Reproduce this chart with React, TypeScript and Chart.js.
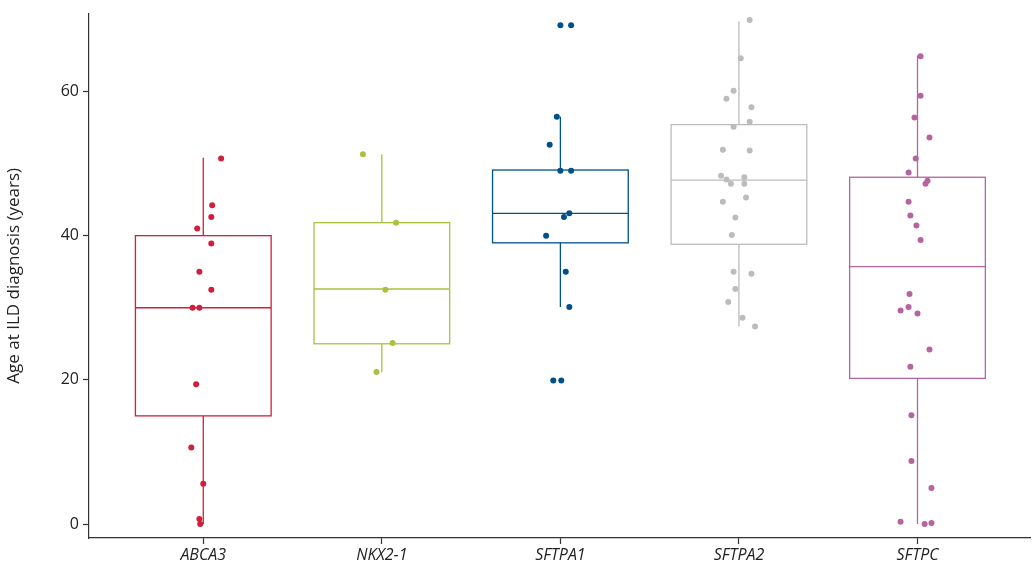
import React, { useEffect, useRef } from "react";
import { Chart, registerables } from "chart.js";
Chart.register(...registerables);

const categories = ["ABCA3", "NKX2-1", "SFTPA1", "SFTPA2", "SFTPC"];
const colors = ["#d01f3c", "#a9c23f", "#00508c", "#bcbcbc", "#b5649d"];
const q1 = [15.0, 25.0, 39.0, 38.8, 20.2];
const medians = [30.0, 32.6, 43.1, 47.7, 35.7];
const q3 = [40.0, 41.8, 49.1, 55.4, 48.1];
const whiskerLow = [0.0, 21.1, 30.1, 27.4, 0.0];
const whiskerHigh = [50.8, 51.3, 56.5, 69.7, 65.0];
const yTicks = [0, 20, 40, 60];

const abca3Y = [50.7, 44.2, 42.6, 41.0, 38.9, 35.0, 32.5, 30.0, 30.0, 19.4, 10.6, 5.6, 0.7, 0.0];
const abca3Jit = [0.1, 0.05, 0.045, -0.034, 0.045, -0.022, 0.045, -0.06, -0.022, -0.04, -0.067, 0, -0.022, -0.017];
const nkxY = [51.3, 41.8, 32.5, 25.1, 21.1];
const nkxJit = [-0.106, 0.08, 0.02, 0.06, -0.03];
const sftpa1Y = [69.2, 69.2, 56.5, 52.6, 49.0, 49.0, 43.1, 42.6, 40.0, 35.0, 30.1, 19.9, 19.9];
const sftpa1Jit = [0, 0.06, -0.02, -0.06, 0, 0.06, 0.05, 0.02, -0.08, 0.03, 0.05, -0.04, 0.005];
const sftpa2Y = [69.9, 64.6, 60.1, 59.0, 57.8, 55.1, 55.8, 51.9, 51.8, 48.3, 47.8, 48.1, 47.2, 47.2, 45.3, 44.7, 42.5, 40.1, 35.0, 34.7, 32.6, 30.8, 28.6, 27.4];
const sftpa2Jit = [0.06, 0.01, -0.03, -0.07, 0.07, -0.03, 0.06, -0.09, 0.06, -0.1, -0.07, 0.03, -0.045, 0.03, 0.04, -0.09, -0.02, -0.04, -0.03, 0.07, -0.02, -0.06, 0.02, 0.09];
const sftpcY = [64.9, 59.4, 56.4, 53.6, 50.7, 48.75, 47.6, 47.2, 44.7, 42.8, 41.4, 39.4, 31.9, 30.1, 29.6, 29.2, 24.2, 21.8, 15.1, 8.75, 5.0, 0.3, 0.0, 0.15];
const sftpcJit = [0.017, 0.017, -0.017, 0.067, -0.01, -0.05, 0.056, 0.045, -0.05, -0.04, -0.006, 0.017, -0.045, -0.05, -0.095, 0, 0.067, -0.04, -0.034, -0.034, 0.078, -0.095, 0.04, 0.078];

const pointsY = [abca3Y, nkxY, sftpa1Y, sftpa2Y, sftpcY];
const pointsJit = [abca3Jit, nkxJit, sftpa1Jit, sftpa2Jit, sftpcJit];
const BOX_HALF = 0.38;

const boxPlugin = {
  id: "boxes",
  beforeDatasetsDraw(chart: any) {
    const { ctx, scales } = chart;
    const x = scales.x, y = scales.y;
    ctx.save();
    ctx.lineWidth = 1.3;
    categories.forEach((_, i) => {
      ctx.strokeStyle = colors[i];
      const cx = x.getPixelForValue(i);
      const l = x.getPixelForValue(i - BOX_HALF), r = x.getPixelForValue(i + BOX_HALF);
      const yq1 = y.getPixelForValue(q1[i]), yq3 = y.getPixelForValue(q3[i]);
      const ym = y.getPixelForValue(medians[i]);
      ctx.beginPath();
      ctx.moveTo(cx, y.getPixelForValue(whiskerHigh[i])); ctx.lineTo(cx, yq3);
      ctx.moveTo(cx, yq1); ctx.lineTo(cx, y.getPixelForValue(whiskerLow[i]));
      ctx.stroke();
      ctx.strokeRect(l, yq3, r - l, yq1 - yq3);
      ctx.beginPath(); ctx.moveTo(l, ym); ctx.lineTo(r, ym); ctx.stroke();
    });
    ctx.restore();
  },
};

export default function App() {
  const ref = useRef<HTMLCanvasElement>(null);
  useEffect(() => {
    document.body.style.margin = "0";
    const datasets = categories.map((c, i) => ({
      label: c,
      data: pointsY[i].map((v, k) => ({ x: i + pointsJit[i][k], y: v })),
      backgroundColor: colors[i],
      borderColor: colors[i],
      pointRadius: 3,
      borderWidth: 0,
    }));
    const font = { family: "'Source Sans Pro', 'Open Sans', sans-serif", size: 16 };
    const grid = { display: true, drawOnChartArea: false, drawTicks: true, tickLength: 6, tickColor: "#333", tickWidth: 1.2 };
    const chart = new Chart(ref.current!, {
      type: "scatter",
      data: { datasets },
      plugins: [boxPlugin],
      options: {
        animation: false,
        responsive: false,
        layout: { padding: { top: 0, right: 5, left: 0, bottom: 0 } },
        plugins: { legend: { display: false }, tooltip: { enabled: false } },
        scales: {
          x: {
            type: "linear", min: -0.64, max: 4.63,
            afterBuildTicks: (s: any) => { s.ticks = categories.map((_, i) => ({ value: i })); },
            afterFit: (s: any) => { s.height = 32; },
            ticks: { color: "#222", font: { ...font, style: "italic" }, callback: (v: any) => categories[v] ?? "", padding: 2 },
            grid,
            border: { color: "#333", width: 1.2 },
          },
          y: {
            min: -1.94, max: 70.8,
            afterBuildTicks: (s: any) => { s.ticks = yTicks.map((v) => ({ value: v })); },
            afterFit: (s: any) => { s.width = 89; },
            ticks: { color: "#222", font, padding: 4 },
            title: { display: true, text: "Age at ILD diagnosis (years)", color: "#222", font: { ...font, size: 17 }, padding: 4 },
            grid,
            border: { color: "#333", width: 1.2 },
          },
        },
      },
    });
    return () => chart.destroy();
  }, []);
  return <canvas ref={ref} width={1035} height={570} style={{ display: "block" }} />;
}
